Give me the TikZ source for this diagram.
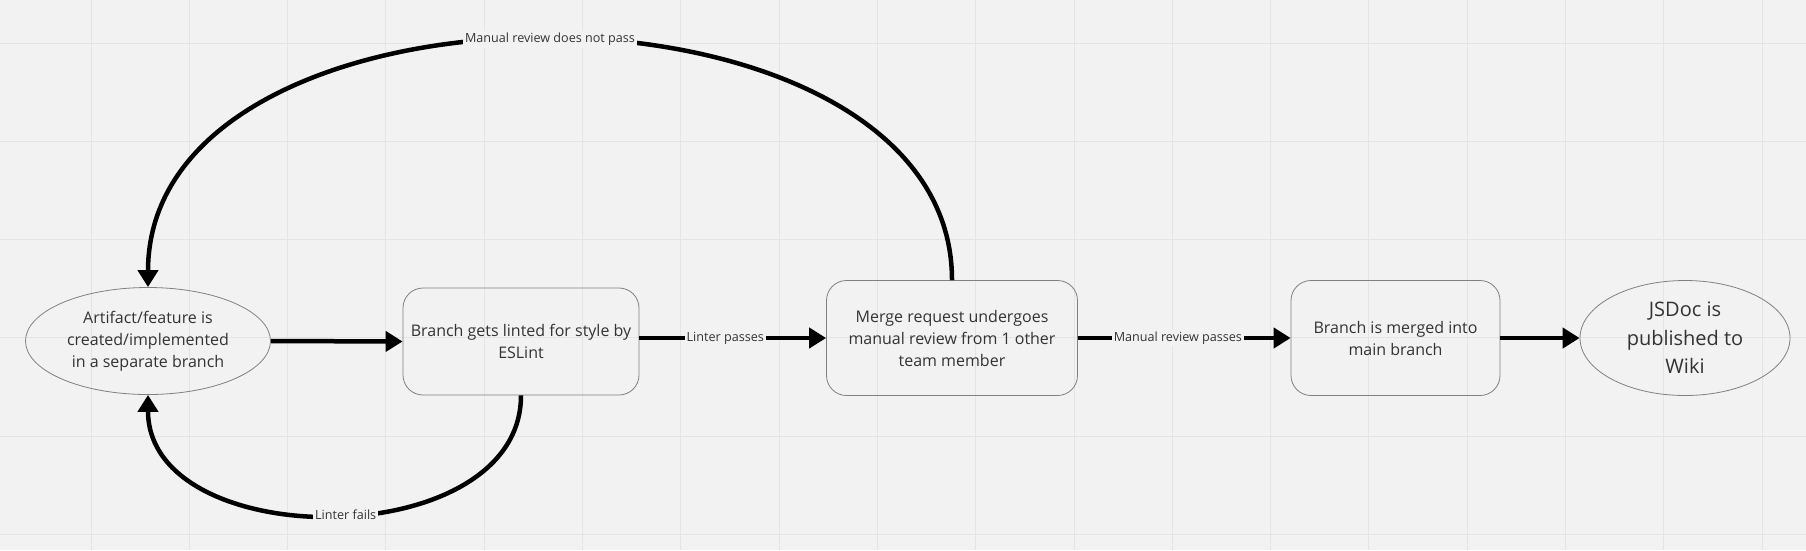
\documentclass[tikz,border=0pt]{standalone}
\usepackage{fontspec}
\setmainfont{Open Sans}
\usetikzlibrary{arrows.meta,positioning,shapes.geometric}

\definecolor{boardbg}{HTML}{F2F2F2}
\definecolor{gridline}{HTML}{E4E4E4}
\definecolor{nodeline}{HTML}{808080}
\definecolor{inktext}{HTML}{333333}

\tikzset{
    stepnode/.style = {draw = nodeline, line width = 0.8pt, text = inktext, align = center,
        font = \fontsize{16}{22}\selectfont},
    stepbox/.style = {stepnode, rectangle, rounded corners = 20pt},
    stepoval/.style = {stepnode, ellipse, inner sep = 0pt},
    flow/.style = {line width = 4.5pt, -{Triangle[length = 17pt, width = 20pt]}},
    flowlabel/.style = {fill = boardbg, text = inktext, inner sep = 2pt,
        font = \fontsize{12.6}{14}\selectfont},
}

\begin{document}
\begin{tikzpicture}[x = 1pt, y = -1pt]
        \useasboundingbox (0,0) rectangle (1806,550);
        \fill[boardbg] (0,0) rectangle (1806,550);
        \foreach \gx in {0,...,17}
            \draw[gridline, line width = 1pt] (91+98.3*\gx,0) -- (91+98.3*\gx,550);
        \foreach \gy in {0,...,5}
            \draw[gridline, line width = 1pt] (0,43+98.3*\gy) -- (1806,43+98.3*\gy);

        \node[stepoval, minimum width = 245pt, minimum height = 107pt] (created) at (148,341)
            {Artifact/feature is\\created/implemented\\in a separate branch};
        \node[stepbox, minimum width = 236pt, minimum height = 107pt] (lint) at (521,341.5)
            {Branch gets linted for style by\\ESLint};
        \node[stepbox, minimum width = 251pt, minimum height = 115pt] (review) at (952,338)
            {Merge request undergoes\\manual review from 1 other\\team member};
        \node[stepbox, minimum width = 209pt, minimum height = 115pt] (merged) at (1395.5,338)
            {Branch is merged into\\main branch};
        \node[stepoval, minimum width = 210pt, minimum height = 115pt,
            font = \fontsize{20}{28.5}\selectfont] (jsdoc) at (1685,338)
            {JSDoc is\\published to\\Wiki};

        \coordinate (peak) at (549,-42);
        \coordinate (dip) at (334,555);

        \draw[flow] (created.east) -- (lint.west);
        \draw[flow] (lint.east |- review.west) -- node[flowlabel, pos = 0.46]{Linter passes} (review.west);
        \draw[flow] (review.east) -- node[flowlabel, pos = 0.47]{Manual review passes} (merged.west);
        \draw[flow] (merged.east) -- (jsdoc.west);

        % back loops
        \draw[flow] (review.north) .. controls (review.north |- peak) and (created.north |- peak)
            .. node[flowlabel]{Manual review does not pass} (created.north);
        \draw[flow] (lint.south) .. controls (lint.south |- dip) and (created.south |- dip)
            .. node[flowlabel, pos = 0.48]{Linter fails} (created.south);
    \end{tikzpicture}
\end{document}
